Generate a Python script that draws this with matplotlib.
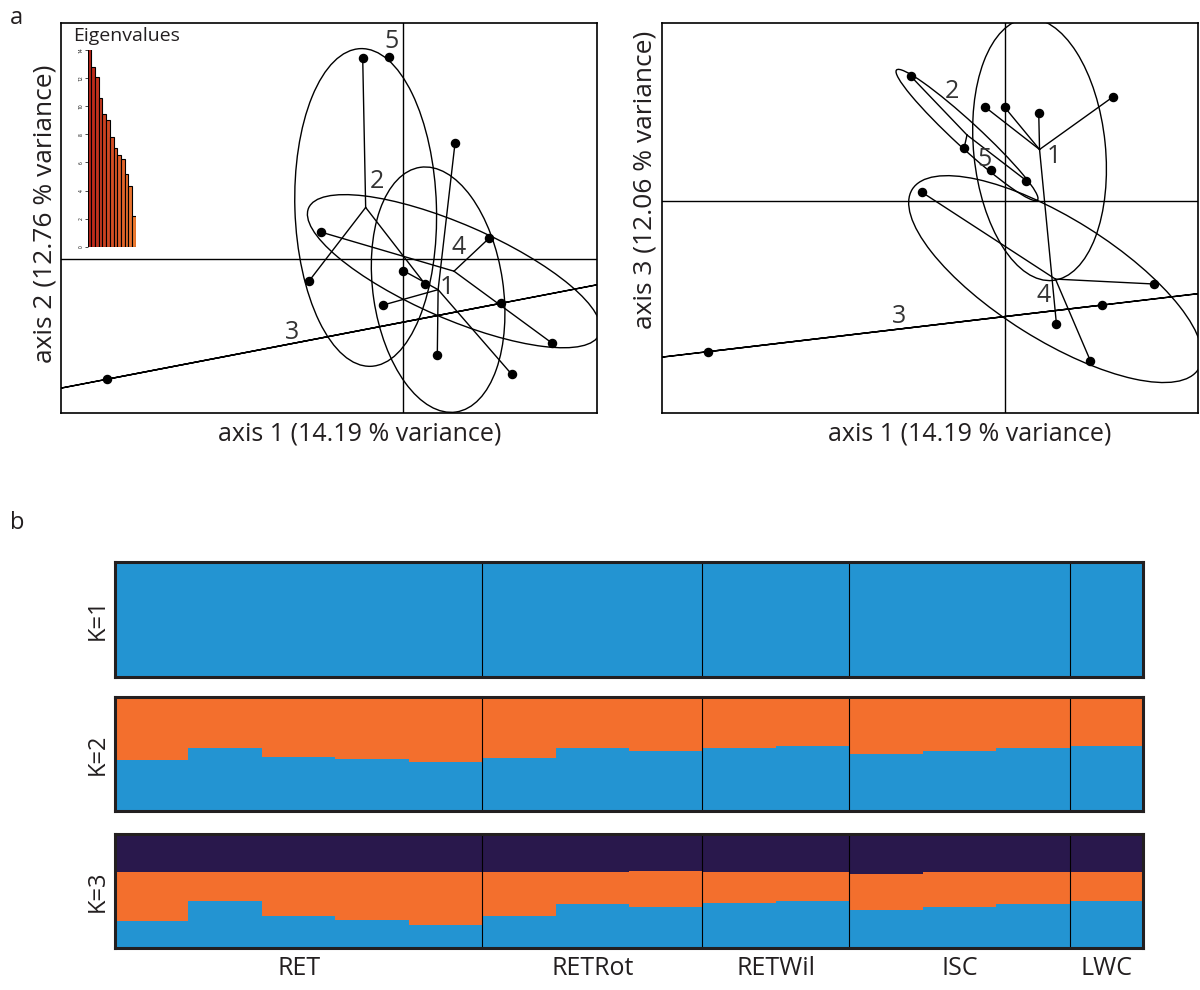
import numpy as np
import matplotlib
matplotlib.use("Agg")
import matplotlib.pyplot as plt
from matplotlib.patches import Ellipse

plt.rcParams['font.family'] = ['Open Sans', 'DejaVu Sans']

# ---- PCA scores (axis 1, 2, 3) per individual ----
ind_group = [1, 1, 1, 1, 1, 2, 2, 2, 3, 3, 4, 4, 4, 5]
ax1 = [0.517, -0.20, 0.34, 1.084, 0.0, -0.406, -0.94, 0.217, -2.966, 0.977, -0.826, 0.857, 1.49, -0.14]
ax2 = [1.157, -0.46, -0.96, -1.153, -0.117, 2.013, -0.217, -0.25, -1.203, -0.443, 0.27, 0.207, -0.843, 2.023]
ax3 = [-1.23, 0.943, 0.883, 1.043, 0.937, 0.527, 1.25, 0.203, -1.507, -1.04, 0.087, -1.60, -0.83, 0.31]

eigenvalues = [14.19, 12.76, 12.06, 10.56, 9.47, 9.04, 7.78, 7.02, 6.53, 6.22, 5.2, 4.34, 2.16]

# ---- admixture proportions ----
pops = ["RET", "RETRot", "RETWil", "ISC", "LWC"]
pop_sizes = [5, 3, 2, 3, 1]
k2_blue = [0.445, 0.555, 0.475, 0.457, 0.43, 0.464, 0.555, 0.53, 0.555, 0.573, 0.5, 0.53, 0.555, 0.566]
k3_blue = [0.234, 0.409, 0.279, 0.245, 0.206, 0.279, 0.388, 0.358, 0.397, 0.415, 0.334, 0.358, 0.388, 0.409]
k3_dark = [0.333, 0.333, 0.333, 0.333, 0.333, 0.333, 0.333, 0.327, 0.333, 0.333, 0.348, 0.333, 0.333, 0.333]

BLUE = "#2394d2"
ORANGE = "#f36f2d"
DARK = "#29184c"
TXT = "#231f20"

W, H = 1200, 990
fig = plt.figure(figsize=(W / 100, H / 100), dpi=100)


def px_axes(x0, y0, x1, y1):
    return fig.add_axes([x0 / W, 1 - y1 / H, (x1 - x0) / W, (y1 - y0) / H])


def scatter_class(ax, xs, ys, xlim, ylim, label_off):
    xs = np.array(xs)
    ys = np.array(ys)
    g = np.array(ind_group)
    ax.axhline(0, color='black', lw=1.0, zorder=1)
    ax.axvline(0, color='black', lw=1.0, zorder=1)
    for k in sorted(set(ind_group)):
        px, py = xs[g == k], ys[g == k]
        cx, cy = px.mean(), py.mean()
        if len(px) > 1:
            cov = np.cov(np.vstack([px, py]), bias=True)
            vals, vecs = np.linalg.eigh(cov)
            vals = np.clip(vals, 0, None)
            ang = np.degrees(np.arctan2(vecs[1, 1], vecs[0, 1]))
            e = Ellipse((cx, cy), 2 * 1.5 * np.sqrt(vals[1]), 2 * 1.5 * np.sqrt(vals[0]),
                        angle=ang, fill=False, color='black', lw=1.0, zorder=2)
            ax.add_patch(e)
            for x, y in zip(px, py):
                ax.plot([cx, x], [cy, y], color='black', lw=1.0, zorder=2)
        ax.scatter(px, py, s=34, color='black', zorder=3)
        ax.annotate(str(k), (cx, cy), xytext=label_off[k], textcoords='offset pixels',
                    ha='center', va='center', fontsize=18, color='#333333')
    ax.set_xlim(xlim)
    ax.set_ylim(ylim)
    ax.set_xticks([])
    ax.set_yticks([])
    for s in ax.spines.values():
        s.set_linewidth(1.2)


# ---- panel a, left ----
axL = px_axes(61, 23, 597, 413)
scatter_class(axL, ax1, ax2, (-3.423, 1.937), (-1.54, 2.36),
              {1: (9, 2), 2: (11, 26), 3: (-12, 9), 4: (5, 24), 5: (2, 15)})

# eigenvalue inset
axE = px_axes(87.7, 50, 135.7, 246.7)
cols = plt.matplotlib.colors.LinearSegmentedColormap.from_list("eig", ["#b8241a", "#ef7a30"])
n = len(eigenvalues)
axE.bar(np.arange(1, n + 1), eigenvalues, width=1.0,
        color=[cols(i / (n - 1)) for i in range(n)], edgecolor='black', linewidth=0.8)
axE.set_xlim(0.5, n + 0.5)
axE.set_ylim(0, 14)
axE.set_yticks(range(0, 15, 2))
axE.set_yticklabels([str(v) for v in range(0, 15, 2)], fontsize=3.5, rotation=90, va='center')
axE.tick_params(axis='y', length=2, width=0.5, pad=1)
axE.set_xticks([])
for s in axE.spines.values():
    s.set_visible(False)
axE.patch.set_alpha(0)
fig.text(73 / W, 1 - 36 / H, "Eigenvalues", fontsize=14, ha='left', va='center', color=TXT)

# ---- panel a, right ----
axR = px_axes(662, 23, 1198, 413)
scatter_class(axR, ax1, ax3, (-3.423, 1.931), (-2.12, 1.78),
              {1: (14, -7), 2: (-15, 44), 3: (-6, 12), 4: (-12, -16), 5: (-6, 10)})

fig.text(360 / W, 1 - 434 / H, "axis 1 (14.19 % variance)", fontsize=18, ha='center', va='center', color=TXT)
fig.text(970 / W, 1 - 434 / H, "axis 1 (14.19 % variance)", fontsize=18, ha='center', va='center', color=TXT)
fig.text(45 / W, 1 - 214 / H, "axis 2 (12.76 % variance)", fontsize=19, ha='center', va='center',
         rotation=90, color=TXT)
fig.text(645 / W, 1 - 180 / H, "axis 3 (12.06 % variance)", fontsize=19, ha='center', va='center',
         rotation=90, color=TXT)

fig.text(10 / W, 1 - 18 / H, "a", fontsize=17, ha='left', va='center', color=TXT)
fig.text(10 / W, 1 - 523 / H, "b", fontsize=17, ha='left', va='center', color=TXT)

# ---- panel b: structure bars ----
nind = sum(pop_sizes)
xpos = np.arange(nind)
bounds = np.cumsum(pop_sizes)[:-1] - 0.5
centers = np.cumsum(pop_sizes) - np.array(pop_sizes) / 2 - 0.5

k2_orange = 1 - np.array(k2_blue)
k3_orange = 1 - np.array(k3_blue) - np.array(k3_dark)

rows = [
    ("K=1", (562, 677), [(np.ones(nind), BLUE)]),
    ("K=2", (697, 811), [(np.array(k2_blue), BLUE), (k2_orange, ORANGE)]),
    ("K=3", (834, 948), [(np.array(k3_blue), BLUE), (k3_orange, ORANGE), (np.array(k3_dark), DARK)]),
]
for i, (lab, (y0, y1), layers) in enumerate(rows):
    ax = px_axes(115, y0, 1143, y1)
    bottom = np.zeros(nind)
    for vals, c in layers:
        ax.bar(xpos, vals, bottom=bottom, width=1.0, color=c, linewidth=0)
        bottom = bottom + vals
    for b in bounds:
        ax.axvline(b, color='black', lw=0.8)
    ax.set_xlim(-0.5, nind - 0.5)
    ax.set_ylim(0, 1)
    ax.set_yticks([])
    ax.set_ylabel(lab, fontsize=17, color=TXT, labelpad=4)
    for s in ax.spines.values():
        s.set_linewidth(2.2)
        s.set_color(TXT)
    if i == len(rows) - 1:
        ax.set_xticks(centers)
        ax.set_xticklabels(pops, fontsize=18, color=TXT)
        ax.tick_params(axis='x', length=0, pad=6)
    else:
        ax.set_xticks([])

fig.savefig("out.png", dpi=100)
